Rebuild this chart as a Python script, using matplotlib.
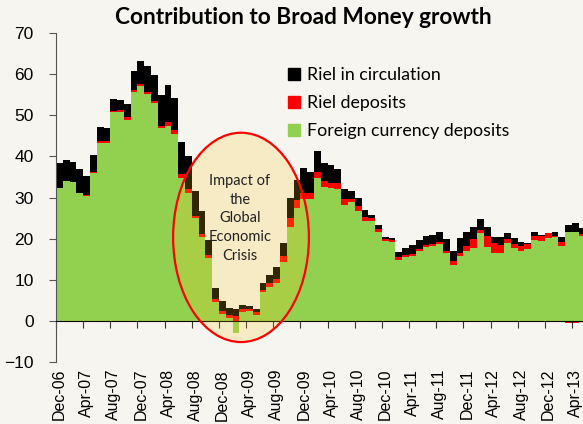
import numpy as np
import pandas as pd
from matplotlib import pyplot as plt
from matplotlib.patches import Ellipse, Patch

# monthly contributions to broad money growth, Dec-06 .. May-13
months = pd.date_range("2006-12-01", periods=78, freq="MS").strftime("%b-%y").tolist()

foreign_deposits = [32.3, 34.0, 33.7, 31.1, 30.4, 35.9, 43.3, 43.3, 50.7, 50.8,
                    48.9, 55.7, 57.2, 55.1, 53.0, 46.9, 47.4, 45.5, 34.7, 31.2,
                    24.9, 20.5, 15.3, 4.6, 1.6, 0.7, -3.0, 2.15, 2.35, 1.5,
                    6.9, 8.25, 9.1, 14.2, 22.9, 27.4, 29.7, 29.7, 34.8, 32.6,
                    32.2, 32.0, 28.2, 28.85, 26.6, 24.4, 24.35, 21.7, 19.4, 19.1,
                    14.8, 15.55, 15.85, 16.9, 18.0, 18.3, 18.7, 16.5, 13.5, 15.75,
                    17.05, 17.75, 21.3, 18.0, 16.45, 16.5, 18.9, 17.7, 17.1, 17.5,
                    19.7, 19.5, 20.1, 20.3, 18.1, 21.7, 21.5, 20.7]
riel_deposits = [-0.2, -0.2, 0.1, 0.1, 0.1, 0.2, 0.5, 0.5, 0.4, 0.4,
                 0.6, 0.5, 0.5, 0.5, 0.4, 0.4, 0.9, 0.8, 1.1, 0.8,
                 0.6, 0.7, 0.7, 0.7, 0.8, 0.8, 1.2, 0.8, 0.6, 0.7,
                 0.55, 1.0, 1.0, 1.6, 2.1, 1.9, 1.5, 1.4, 1.4, 1.3,
                 1.4, 1.5, 1.4, 0.9, 1.3, 0.8, 0.6, 0.65, 0.4, 0.5,
                 0.8, 0.4, 0.45, 0.6, 0.5, 0.5, 0.45, 0.4, 1.0, 0.85,
                 1.05, 2.1, 0.7, 2.6, 2.6, 2.0, 1.05, 1.0, 1.0, 1.2,
                 1.0, 1.2, 1.2, 0.25, 1.2, -0.4, -0.4, 0.4]
riel_circulation = [6.2, 5.2, 4.8, 5.7, 4.8, 4.3, 3.3, 3.2, 2.8, 2.5,
                    3.2, 4.5, 5.6, 6.3, 6.4, 7.6, 9.0, 7.9, 7.6, 8.1,
                    6.1, 5.6, 3.7, 2.7, 2.5, 1.7, 1.7, 0.9, 0.65, 0.75,
                    1.85, 1.85, 2.9, 3.1, 4.9, 5.0, 6.0, 5.2, 5.2, 4.5,
                    4.2, 3.5, 2.4, 1.75, 1.9, 1.8, 0.85, 1.05, 0.5, 0.5,
                    1.05, 1.8, 2.1, 2.2, 2.2, 2.2, 2.45, 3.1, 2.4, 3.5,
                    3.5, 3.0, 2.8, 2.15, 1.25, 1.8, 1.35, 1.4, 1.2, 0.2,
                    0.8, 0.3, 0.05, 1.15, 1.2, 1.7, 2.4, 1.5]

bg = "#F6F5F0"
fig = plt.figure(figsize=(5.83, 4.24), dpi=100, facecolor=bg)
ax = fig.add_axes([56 / 583, 62 / 424, 527 / 583, 329 / 424])
ax.set_facecolor(bg)

x = np.arange(len(months))
pos = np.zeros(len(x))
neg = np.zeros(len(x))
for vals, col in [(foreign_deposits, "#92D050"), (riel_deposits, "#FF0000"),
                  (riel_circulation, "#000000")]:
    v = np.array(vals)
    bottom = np.where(v >= 0, pos, neg)
    ax.bar(x, v, bottom=bottom, width=1.0, color=col, linewidth=0)
    pos += np.clip(v, 0, None)
    neg += np.clip(v, None, 0)

ax.set_xlim(-0.5, len(x) - 1 + 0.12)
ax.set_ylim(-10, 70)
ax.set_yticks(range(-10, 71, 10))
for s in ["top", "right"]:
    ax.spines[s].set_visible(False)
ax.spines["bottom"].set_position(("data", 0))
ax.spines["left"].set_color("#555555")
ax.set_xticks(np.arange(-0.5, len(x), 4))
ax.tick_params(axis="x", labelbottom=False, length=5, direction="out", color="#333333")
ax.tick_params(axis="y", length=5, labelsize=12.5, color="#555555", pad=11)
for lab in ax.get_yticklabels():
    lab.set_fontfamily("Liberation Sans")

sec = ax.secondary_xaxis(0.0)
sec.set_xticks(x[::4])
sec.set_xticklabels(months[::4], rotation=90, fontsize=11.5, family="Liberation Sans")
sec.tick_params(length=0, pad=5)
sec.spines["bottom"].set_visible(False)

ell = Ellipse((26.75, 20.3), 20.0, 50.9, facecolor=(1.0, 0.78, 0.1, 0.2),
              edgecolor="#FF0000", linewidth=1.6, zorder=5)
ax.add_patch(ell)
ax.text(26.6, 24.9, "Impact of\nthe\nGlobal\nEconomic\nCrisis", ha="center", va="center",
        fontsize=10.5, family="Lato", color="#222222", linespacing=1.42, zorder=6)

fig.text(0.52, 1 - 18 / 424, "Contribution to Broad Money growth", ha="center", va="center",
         fontsize=16.3, fontweight="bold", family="Lato")

handles = [Patch(color="#000000"), Patch(color="#FF0000"), Patch(color="#92D050")]
labels = ["Riel in circulation", "Riel deposits", "Foreign currency deposits"]
fig.legend(handles, labels, loc="upper left", bbox_to_anchor=(281 / 583, 1 - 60 / 424),
           frameon=False, prop={"family": "Lato", "size": 12.8}, handlelength=0.65,
           handleheight=0.65, handletextpad=0.4, labelspacing=0.68, borderaxespad=0)

fig.savefig("out.png", dpi=100, facecolor=bg)
